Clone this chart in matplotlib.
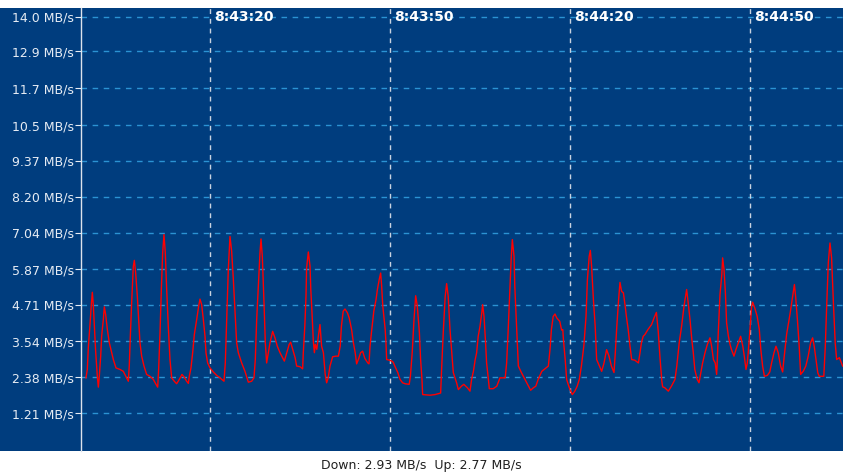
import matplotlib
matplotlib.use("Agg")
import matplotlib.pyplot as plt
from matplotlib.patches import Rectangle
from matplotlib.transforms import blended_transform_factory

# seconds after 8:43:00 and download rate (MB/s)
secs = [-0.67, -0.45, -0.28, 0.0, 0.22, 0.39, 0.55, 0.72, 0.94, 1.22, 1.39, 1.55, 1.78, 1.94, 2.22,
        2.39, 2.61, 2.89, 3.22, 3.61, 3.89, 4.33, 5.0, 5.55, 6.11, 6.39, 6.55, 6.72, 6.94, 7.22,
        7.39, 7.61, 7.89, 8.11, 8.33, 8.61, 9.0, 9.44, 10.0, 10.55, 11.0, 11.28, 11.44, 11.67, 11.89,
        12.11, 12.33, 12.55, 12.78, 13.05, 13.33, 13.61, 14.05, 14.44, 14.89, 15.33, 15.72, 16.11,
        16.39, 16.55, 16.83, 17.11, 17.39, 17.78, 18.11, 18.33, 18.61, 18.89, 19.17, 19.33, 19.61,
        20.0, 20.55, 21.11, 21.67, 22.33, 22.55, 22.78, 23.05, 23.33, 23.61, 23.89, 24.17, 24.44,
        24.72, 25.28, 25.83, 26.39, 26.94, 27.33, 27.55, 27.78, 28.05, 28.33, 28.5, 28.72, 29.0,
        29.22, 29.44, 29.72, 30.0, 30.44, 30.83, 31.22, 31.67, 32.39, 32.8, 33.2, 33.44, 33.8,
        34.2, 34.44, 35.0, 35.44, 35.55, 35.8, 36.0, 36.1, 36.39, 36.67, 36.8, 37.0, 37.22, 37.4,
        37.55, 37.8, 38.1, 38.33, 38.6, 38.9, 39.2, 39.44, 39.7, 40.0, 40.44, 41.0, 41.4, 41.7,
        41.9, 42.2, 42.5, 42.9, 43.2, 43.6, 43.9, 44.2, 44.44, 44.8, 45.1, 45.44, 45.8, 46.3, 46.5,
        46.67, 46.9, 47.3, 47.67, 47.9, 48.2, 48.44, 48.6, 48.8, 49.2, 49.33, 49.44, 49.9, 50.3,
        50.55, 50.8, 51.3, 51.67, 52.1, 52.5, 53.2, 53.4, 53.7, 54.0, 54.28, 54.55, 54.9, 55.1,
        55.33, 55.44, 56.1, 56.67, 57.5, 58.44, 58.6, 58.9, 59.2, 59.44, 59.7, 60.0, 60.3, 60.55,
        61.1, 61.39, 61.9, 62.3, 62.9, 63.33, 63.6, 63.9, 64.2, 64.44, 64.7, 65.0, 65.3, 65.44,
        65.67, 65.9, 66.1, 66.4, 66.55, 67.2, 67.8, 68.33, 69.2, 69.44, 69.7, 70.0, 70.2, 70.39,
        70.67, 70.8, 71.1, 71.39, 71.9, 72.5, 73.1, 73.44, 73.9, 74.3, 74.7, 75.3, 75.8, 76.39,
        76.67, 76.9, 77.2, 77.5, 77.8, 78.3, 78.6, 78.8, 78.9, 79.2, 79.44, 79.7, 80.0, 80.39, 80.8,
        81.2, 81.55, 81.9, 82.3, 82.67, 82.9, 83.2, 83.39, 83.6, 83.9, 84.2, 84.44, 84.9, 85.28,
        85.67, 86.1, 86.5, 86.9, 87.33, 87.55, 87.8, 88.1, 88.33, 88.6, 88.9, 89.2, 89.4, 89.7,
        90.0, 90.28, 90.8, 91.4, 91.67, 91.9, 92.2, 92.5, 93.0, 93.6, 94.0, 94.4, 94.7, 95.0, 95.3,
        95.44, 95.8, 96.39, 96.9, 97.5, 97.8, 98.2, 98.6, 99.0, 99.44, 99.7, 100.0, 100.3, 100.55,
        100.8, 101.2, 101.5, 101.8, 102.1, 102.5, 102.9, 103.33, 103.6, 103.9, 104.2, 104.44,
        104.55, 104.7, 105.0, 105.3, 105.44, 105.67, 105.9, 106.1, 106.4, 106.67, 106.9, 107.33,
        107.67, 108.05, 108.44, 108.8, 109.05, 109.33, 109.55, 109.7, 110.0, 110.27, 110.44, 110.8,
        111.2, 111.55, 111.8, 112.1, 112.4, 112.9, 113.3, 113.6, 114.0, 114.33, 114.7, 115.1,
        115.44, 115.67, 116.1, 116.67, 117.1, 117.4, 117.6, 117.9, 118.2, 118.44, 118.9, 119.3,
        119.7, 120.1, 120.44, 120.7, 121.0, 121.3, 121.55, 121.9, 122.3, 122.55, 122.8, 123.05,
        123.33, 123.6, 123.9, 124.2, 124.44, 124.9, 125.44]
rate = [2.36, 2.63, 3.33, 4.08, 4.72, 5.12, 4.72, 4.08, 3.22, 2.41, 2.06, 2.41, 3.06, 3.70, 4.24,
        4.65, 4.40, 3.92, 3.49, 3.17, 2.95, 2.68, 2.63, 2.57, 2.36, 2.25, 2.77, 3.70, 4.78, 5.96,
        6.15, 5.74, 4.99, 4.24, 3.49, 3.06, 2.74, 2.47, 2.41, 2.31, 2.15, 2.06, 2.63, 3.81, 5.21,
        6.39, 6.98, 6.39, 5.21, 4.02, 2.95, 2.36, 2.25, 2.17, 2.31, 2.47, 2.38, 2.25,
        2.18, 2.41, 2.68, 3.17, 3.76, 4.24, 4.67, 4.90, 4.72, 4.24, 3.70, 3.17, 2.84,
        2.68, 2.55, 2.44, 2.36, 2.25, 2.84, 4.24, 5.85, 6.92, 6.44, 5.53, 4.46, 3.49,
        3.17, 2.84, 2.57, 2.22, 2.25, 2.36, 2.95, 4.24, 5.31, 6.39, 6.84, 6.28, 4.78,
        3.49, 2.84, 3.17, 3.49, 3.86, 3.65, 3.38, 3.17, 2.90, 3.17, 3.44, 3.51, 3.27,
        3.00, 2.74, 2.72, 2.65, 3.17, 4.02, 4.99, 5.90, 6.42, 5.96, 5.21, 4.46, 3.55, 3.17,
        3.44, 3.28, 3.76, 4.08, 3.38, 3.17, 2.47, 2.20, 2.36, 2.74, 3.04, 3.06, 3.06, 3.38,
        4.02, 4.51, 4.58, 4.46, 4.29, 3.92, 3.49, 3.17, 2.81, 2.99, 3.17, 3.22, 2.99, 2.84, 2.81,
        3.38, 3.81, 4.51, 4.88, 5.21, 5.53, 5.74, 5.35, 4.67, 3.92, 3.49, 2.95, 2.93, 2.90,
        2.86, 2.74, 2.53, 2.31, 2.20, 2.17, 2.15, 2.41, 3.17, 4.24, 5.01, 4.67, 3.81, 2.95,
        2.31, 1.82, 1.81, 1.80, 1.82, 1.87, 2.63, 3.92, 4.99, 5.40, 4.99, 3.92, 3.17, 2.53,
        2.20, 1.98, 2.09, 2.15, 2.04, 1.93, 2.31, 2.57, 2.95, 3.17, 3.70, 4.02, 4.46, 4.72,
        4.34, 3.60, 2.84, 2.31, 2.01, 2.01, 2.09, 2.36, 2.36, 2.84, 3.92, 5.31, 6.22, 6.82,
        6.28, 5.31, 4.02, 2.74, 2.53, 2.31, 2.09, 1.96, 2.04, 2.09, 2.31, 2.57, 2.65, 2.74,
        3.28, 3.92, 4.34, 4.42, 4.29, 4.18, 3.90, 3.92, 3.60, 2.95, 2.31, 2.15, 1.98, 1.82, 1.93,
        2.09, 2.31, 2.74, 3.38, 4.34, 5.53, 6.28, 6.47, 5.96, 4.88, 4.02, 2.95, 2.74, 2.57,
        2.84, 3.27, 3.06, 2.74, 2.53, 3.17, 4.02, 4.88, 5.44, 5.15, 5.10, 4.67, 4.34, 3.92,
        3.38, 2.95, 2.93, 2.84, 3.17, 3.49, 3.70, 3.76, 3.92, 4.08, 4.29, 4.47, 3.87, 3.01, 2.26,
        2.07, 2.04, 1.93, 2.09, 2.31, 2.74, 3.49, 4.02, 4.67, 5.21, 4.78, 4.24, 3.60, 3.17,
        2.63, 2.31, 2.20, 2.52, 2.84, 3.17, 3.44, 3.65, 3.38, 2.95, 2.84, 2.47,
        2.90, 3.76, 5.05, 5.69, 6.23, 5.85, 5.10, 4.13, 3.70, 3.44, 3.28, 3.06,
        3.28, 3.49, 3.70, 3.38, 3.06, 2.63, 2.84, 3.17, 3.92, 4.67, 4.80, 4.61,
        4.34, 3.92, 3.28, 2.74, 2.41, 2.44, 2.55, 2.84, 3.17, 3.38, 3.17, 2.74,
        2.55, 2.99, 3.76, 4.42, 4.99, 5.37, 4.99, 4.24, 3.38, 2.47, 2.58, 2.74,
        3.06, 3.49, 3.65, 3.38, 2.95, 2.52, 2.41, 2.41, 2.41, 3.38, 4.78, 6.07,
        6.71, 6.23, 4.78, 3.49, 2.95, 3.01, 2.74]

ytick_vals = [1.21, 2.38, 3.54, 4.71, 5.87, 7.04, 8.20, 9.37, 10.5, 11.7, 12.9, 14.0]
ytick_labels = ["1.21 MB/s", "2.38 MB/s", "3.54 MB/s", "4.71 MB/s", "5.87 MB/s", "7.04 MB/s",
                "8.20 MB/s", "9.37 MB/s", "10.5 MB/s", "11.7 MB/s", "12.9 MB/s", "14.0 MB/s"]
time_secs = [20, 50, 80, 110]
time_labels = ["8:43:20", "8:43:50", "8:44:20", "8:44:50"]
status = "Down: 2.93 MB/s  Up: 2.77 MB/s"

bg = "#003D7E"

fig = plt.figure(figsize=(8.43, 4.74), dpi=100)
fig.patch.set_facecolor("white")
bottom, top = 23 / 474, 466 / 474
# blue panel behind the axis labels
fig.patches.append(Rectangle((0, bottom), 1, top - bottom, transform=fig.transFigure,
                             facecolor=bg, edgecolor="none", zorder=-10))
ax = fig.add_axes([81 / 843, bottom, 1 - 81 / 843, top - bottom])
ax.set_facecolor(bg)

ax.set_xlim(-1.5, 125.5)
ax.set_ylim(0, 14.29)

# horizontal grid
for v in ytick_vals:
    ax.axhline(v, color="#2B93D3", lw=1, ls=(0, (4, 4)), zorder=1)
# vertical time lines and labels
lab_tr = blended_transform_factory(ax.transData, ax.transAxes)
for s, lab in zip(time_secs, time_labels):
    ax.axvline(s, color="#C9D3E0", lw=1, ls=(0, (3.5, 3.5)), zorder=1)
    ax.text(s + 0.7, 0.98, lab, transform=lab_tr, color="white", fontsize=10,
            fontweight="bold", ha="left", va="center", zorder=3)

ax.plot(secs, rate, color="#FF0000", lw=1, zorder=2)

ax.set_yticks(ytick_vals)
ax.set_yticklabels(ytick_labels)
ax.set_xticks([])
ax.tick_params(axis="y", colors="#E6ECF4", labelsize=9, length=4, pad=1)
for side in ["top", "right", "bottom"]:
    ax.spines[side].set_visible(False)
ax.spines["left"].set_color("#DDE3EC")
ax.spines["left"].set_linewidth(1)

fig.text(0.5, 9 / 474, status, ha="center", va="center", fontsize=9, color="#202020")

fig.savefig("out.png", dpi=100)
